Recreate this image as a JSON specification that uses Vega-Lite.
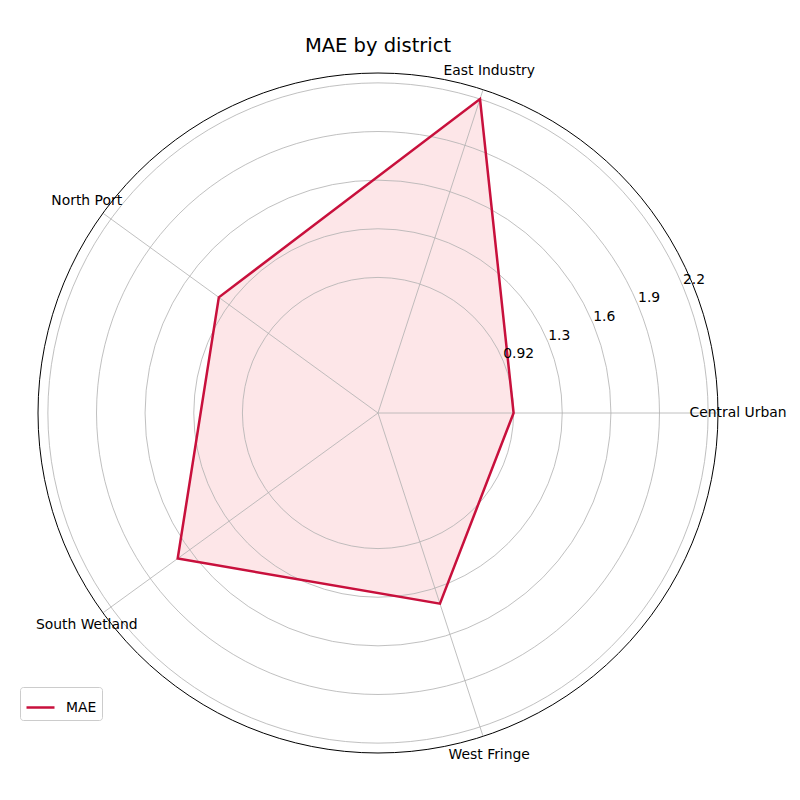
{
  "$schema": "https://vega.github.io/schema/vega-lite/v6.json",
  "autosize": "none",
  "width": 680,
  "height": 680,
  "padding": {"left": 38, "top": 73, "right": 82, "bottom": 47},
  "title": {"text": "MAE by district", "fontSize": 19.5, "fontWeight": "normal", "font": "DejaVu Sans", "color": "#000000", "offset": 7},
  "datasets": {
    "districts": [
      {"district": "Central Urban", "MAE": 0.92},
      {"district": "East Industry", "MAE": 2.24},
      {"district": "North Port", "MAE": 1.335},
      {"district": "South Wetland", "MAE": 1.68},
      {"district": "West Fringe", "MAE": 1.36}
    ],
    "rings": [
      {"value": 0.92},
      {"value": 1.25},
      {"value": 1.58},
      {"value": 1.91},
      {"value": 2.24}
    ],
    "outer": [
      {"value": 2.307}
    ]
  },
  "layer": [
    {
      "data": {"name": "districts"},
      "transform": [
        {"window": [{"op": "row_number", "as": "idx"}]},
        {"calculate": "(datum.idx - 1) * 2 * PI / 5", "as": "a"},
        {"calculate": "datum.MAE * cos(datum.a)", "as": "x"},
        {"calculate": "datum.MAE * sin(datum.a)", "as": "y"}
      ],
      "mark": {"type": "line", "interpolate": "linear-closed", "fill": "#fde6e8", "strokeOpacity": 0},
      "encoding": {
        "x": {"field": "x", "type": "quantitative", "scale": {"domain": [-2.307, 2.307], "nice": false, "zero": false}, "axis": null},
        "y": {"field": "y", "type": "quantitative", "scale": {"domain": [-2.307, 2.307], "nice": false, "zero": false}, "axis": null},
        "order": {"field": "idx"}
      }
    },
    {
      "data": {"name": "rings"},
      "mark": {"type": "arc", "filled": false, "stroke": "#b0b0b0", "strokeWidth": 0.8},
      "encoding": {
        "theta": {"datum": 0, "type": "quantitative", "scale": {"domain": [0, 1], "range": [0, 6.2832]}},
        "theta2": {"datum": 1},
        "radius": {"field": "value", "type": "quantitative", "stack": null, "scale": {"type": "linear", "domain": [0, 2.307], "range": [0, 340], "zero": true, "nice": false}}
      }
    },
    {
      "data": {"name": "outer"},
      "mark": {"type": "arc", "filled": false, "stroke": "#000000", "strokeWidth": 1},
      "encoding": {
        "theta": {"datum": 0, "type": "quantitative"},
        "theta2": {"datum": 1},
        "radius": {"field": "value", "type": "quantitative", "stack": null}
      }
    },
    {
      "data": {"name": "districts"},
      "transform": [
        {"window": [{"op": "row_number", "as": "idx"}]},
        {"calculate": "(datum.idx - 1) * 2 * PI / 5", "as": "a"},
        {"calculate": "2.307 * cos(datum.a)", "as": "sx"},
        {"calculate": "2.307 * sin(datum.a)", "as": "sy"}
      ],
      "mark": {"type": "rule", "stroke": "#b0b0b0", "strokeWidth": 0.8},
      "encoding": {
        "x": {"field": "sx", "type": "quantitative", "axis": null},
        "y": {"field": "sy", "type": "quantitative", "axis": null},
        "x2": {"datum": 0},
        "y2": {"datum": 0}
      }
    },
    {
      "data": {"name": "districts"},
      "transform": [
        {"window": [{"op": "row_number", "as": "idx"}]},
        {"calculate": "(datum.idx - 1) * 2 * PI / 5", "as": "a"},
        {"calculate": "datum.MAE * cos(datum.a)", "as": "x"},
        {"calculate": "datum.MAE * sin(datum.a)", "as": "y"}
      ],
      "mark": {"type": "line", "interpolate": "linear-closed", "strokeWidth": 2.5},
      "encoding": {
        "x": {"field": "x", "type": "quantitative", "axis": null},
        "y": {"field": "y", "type": "quantitative", "axis": null},
        "order": {"field": "idx"},
        "color": {
          "datum": "MAE",
          "type": "nominal",
          "scale": {"range": ["#c8103c"]},
          "legend": {
            "title": null,
            "orient": "none",
            "legendX": -18,
            "legendY": 614,
            "symbolType": "stroke",
            "symbolStrokeWidth": 2.5,
            "symbolSize": 784,
            "labelFontSize": 13.9,
            "labelFont": "DejaVu Sans",
            "labelColor": "#000000",
            "labelOffset": 10,
            "padding": 5,
            "strokeColor": "#cccccc",
            "fillColor": "#ffffff",
            "cornerRadius": 3
          }
        }
      }
    },
    {
      "data": {"name": "districts"},
      "transform": [
        {"window": [{"op": "row_number", "as": "idx"}]},
        {"calculate": "(datum.idx - 1) * 2 * PI / 5", "as": "a"},
        {"calculate": "2.443 * cos(datum.a)", "as": "lx"},
        {"calculate": "2.443 * sin(datum.a)", "as": "ly"}
      ],
      "mark": {"type": "text", "align": "center", "baseline": "middle", "fontSize": 13.9, "font": "DejaVu Sans", "color": "#000000"},
      "encoding": {
        "x": {"field": "lx", "type": "quantitative", "axis": null},
        "y": {"field": "ly", "type": "quantitative", "axis": null},
        "text": {"field": "district"}
      }
    },
    {
      "data": {"name": "rings"},
      "transform": [
        {"calculate": "datum.value * cos(PI / 8)", "as": "tx"},
        {"calculate": "datum.value * sin(PI / 8)", "as": "ty"}
      ],
      "mark": {"type": "text", "align": "left", "baseline": "bottom", "fontSize": 13.9, "font": "DejaVu Sans", "color": "#000000"},
      "encoding": {
        "x": {"field": "tx", "type": "quantitative", "axis": null},
        "y": {"field": "ty", "type": "quantitative", "axis": null},
        "text": {"field": "value", "type": "quantitative", "format": ".2g"}
      }
    }
  ],
  "config": {
    "view": {"stroke": null}
  }
}
